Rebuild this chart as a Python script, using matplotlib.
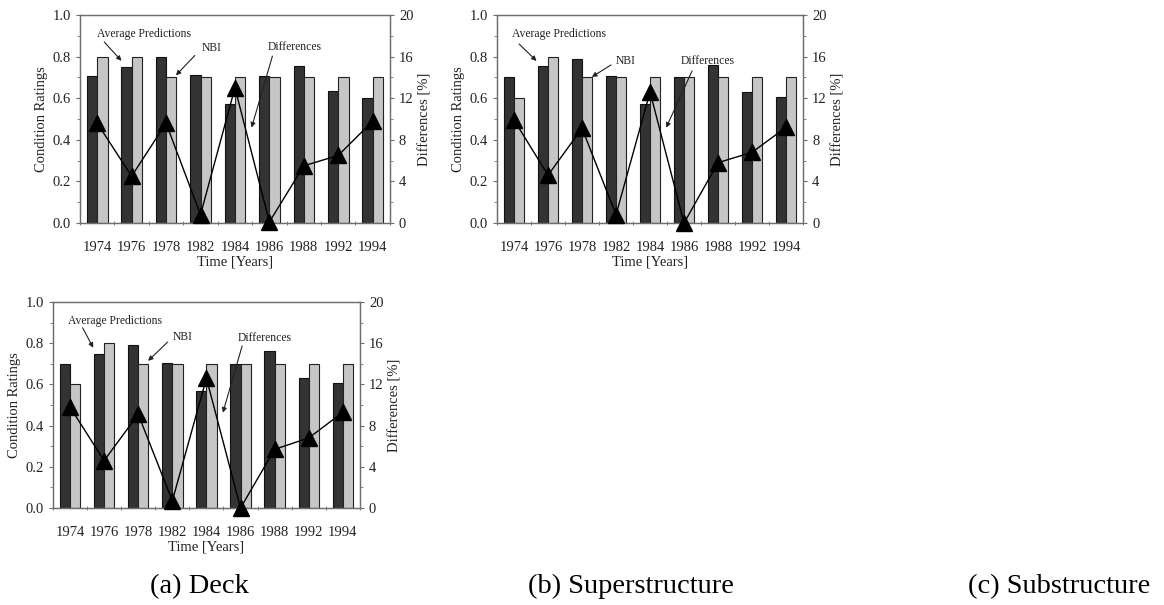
import matplotlib.pyplot as plt
import numpy as np
from matplotlib.ticker import MultipleLocator, FormatStrFormatter

plt.rcParams['font.family'] = ['Liberation Serif', 'DejaVu Serif']

years = ['1974', '1976', '1978', '1982', '1984', '1986', '1988', '1992', '1994']

# (a) Deck
deck_avg = [0.705, 0.75, 0.80, 0.71, 0.57, 0.705, 0.755, 0.635, 0.60]
deck_nbi = [0.80, 0.80, 0.70, 0.70, 0.70, 0.70, 0.70, 0.70, 0.70]
deck_diff = [9.6, 4.5, 9.6, 0.8, 13.0, 0.1, 5.5, 6.5, 9.8]

# (b) Superstructure
super_avg = [0.70, 0.755, 0.79, 0.705, 0.57, 0.70, 0.76, 0.63, 0.605]
super_nbi = [0.60, 0.80, 0.70, 0.70, 0.70, 0.70, 0.70, 0.70, 0.70]
super_diff = [9.9, 4.6, 9.1, 0.8, 12.6, 0.0, 5.8, 6.8, 9.2]

# (c) Substructure
sub_avg = [0.70, 0.75, 0.79, 0.705, 0.57, 0.70, 0.76, 0.63, 0.605]
sub_nbi = [0.60, 0.80, 0.70, 0.70, 0.70, 0.70, 0.70, 0.70, 0.70]
sub_diff = [9.8, 4.6, 9.1, 0.7, 12.6, 0.0, 5.7, 6.8, 9.3]

captions = ['(a) Deck', '(b) Superstructure', '(c) Substructure']

dark = '#333333'
light = '#c6c6c6'
frame = '#6e6e6e'
txt = '#222222'


def draw_panel(rect, avg, nbi, diff, notes):
    ax = fig.add_axes(rect)
    x = np.arange(len(years))
    w = 0.3
    ax.bar(x - w / 2, avg, w, color=dark, edgecolor='#111111', linewidth=0.8)
    ax.bar(x + w / 2, nbi, w, color=light, edgecolor='#222222', linewidth=0.8)
    ax.set_xlim(-0.5, len(years) - 0.5)
    ax.set_ylim(0, 1.0)
    ax.set_xticks(x)
    ax.set_xticklabels(years)
    ax.set_xticks(np.arange(-0.5, len(years), 1.0), minor=True)
    ax.tick_params(axis='x', which='major', length=0, pad=13, labelsize=10.5, colors=txt)
    ax.tick_params(axis='x', which='minor', length=3, direction='inout', color=frame)
    ax.yaxis.set_major_locator(MultipleLocator(0.2))
    ax.yaxis.set_minor_locator(MultipleLocator(0.1))
    ax.yaxis.set_major_formatter(FormatStrFormatter('%.1f'))
    ax.tick_params(axis='y', which='both', direction='out', length=3, color=frame,
                   labelsize=10.5, labelcolor=txt)
    ax.tick_params(axis='y', which='minor', length=2)
    ax.set_ylabel('Condition Ratings', fontsize=10.5, color=txt, labelpad=3)
    ax.set_xlabel('Time [Years]', fontsize=10.5, color=txt, labelpad=1)
    for s in ax.spines.values():
        s.set_color(frame)
        s.set_linewidth(0.9)

    ax2 = ax.twinx()
    ax2.set_ylim(0, 20)
    ax2.plot(x, diff, color='black', linewidth=1.0, marker='^', markersize=11,
             clip_on=False, zorder=5)
    ax2.yaxis.set_major_locator(MultipleLocator(4))
    ax2.yaxis.set_minor_locator(MultipleLocator(2))
    ax2.tick_params(axis='y', which='both', direction='out', length=3, color=frame,
                    labelsize=10.5, labelcolor=txt)
    ax2.tick_params(axis='y', which='minor', length=2)
    ax2.set_ylabel('Differences [%]', fontsize=10.5, color=txt, labelpad=3)
    for s in ax2.spines.values():
        s.set_color(frame)
        s.set_linewidth(0.9)

    arrow = dict(arrowstyle='-|>', color='#222222', lw=0.8, mutation_scale=7)
    for label, xy, xytext, tail, ha in notes:
        ax.text(xytext[0], xytext[1], label, fontsize=8.4, ha=ha, va='center', color=txt)
        ax.annotate('', xy=xy, xytext=tail, arrowprops=arrow)
    return ax


fig = plt.figure(figsize=(11.64, 6.05), dpi=100)

notes_a = [
    ('Average Predictions', (0.76, 0.77), (0.0, 0.91), (0.15, 0.88), 'left'),
    ('NBI', (2.23, 0.70), (3.32, 0.84), (2.89, 0.815), 'center'),
    ('Differences', (4.46, 0.446), (5.74, 0.845), (5.11, 0.815), 'center'),
]
notes_b = [
    ('Average Predictions', (0.72, 0.77), (-0.06, 0.907), (0.09, 0.87), 'left'),
    ('NBI', (2.22, 0.695), (3.27, 0.78), (2.92, 0.767), 'center'),
    ('Differences', (4.44, 0.446), (5.71, 0.78), (5.27, 0.743), 'center'),
]
notes_c = [
    ('Average Predictions', (0.72, 0.766), (-0.06, 0.91), (0.33, 0.887), 'left'),
    ('NBI', (2.23, 0.705), (3.3, 0.83), (2.92, 0.815), 'center'),
    ('Differences', (4.46, 0.45), (5.72, 0.827), (5.07, 0.80), 'center'),
]

draw_panel([0.0687, 0.6314, 0.2663, 0.3438], deck_avg, deck_nbi, deck_diff, notes_a)
draw_panel([0.4270, 0.6314, 0.2629, 0.3438], super_avg, super_nbi, super_diff, notes_b)
draw_panel([0.0455, 0.1603, 0.2637, 0.3405], sub_avg, sub_nbi, sub_diff, notes_c)

cap_x = [199 / 1164, 631 / 1164, 1059 / 1164]
for cx, cap in zip(cap_x, captions):
    fig.text(cx, 0.031, cap, fontsize=20.5, ha='center', va='center', color='black')

fig.savefig('out.png', dpi=100)
